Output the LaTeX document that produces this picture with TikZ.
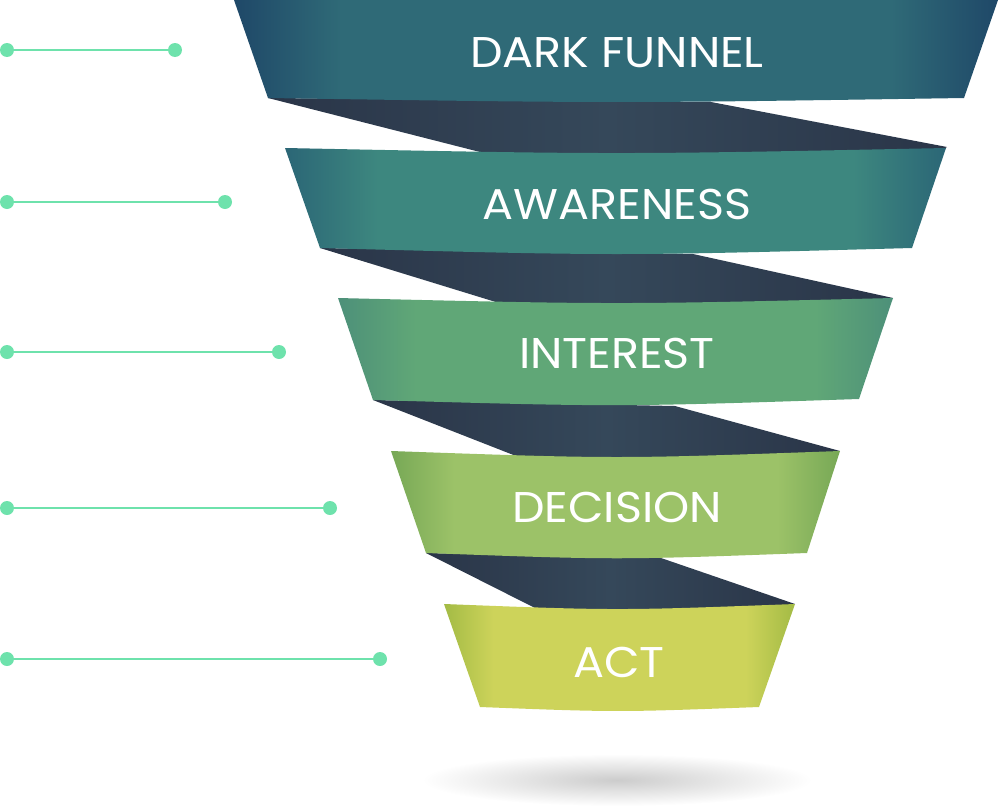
\documentclass[tikz,border=0pt]{standalone}
\usepackage{fontspec}
\setmainfont{Poppins}[FakeStretch=1.07]
\definecolor{bonee}{HTML}{1F4868}
\definecolor{bonem}{HTML}{2F6A77}
\definecolor{btwoe}{HTML}{2B6676}
\definecolor{btwom}{HTML}{3D877F}
\definecolor{bthree}{HTML}{4D9079}
\definecolor{bthreem}{HTML}{60A777}
\definecolor{bfoure}{HTML}{77A856}
\definecolor{bfourm}{HTML}{9CC268}
\definecolor{bfivee}{HTML}{A3BB45}
\definecolor{bfivem}{HTML}{CDD35A}
\definecolor{dke}{HTML}{2A3548}
\definecolor{dkm}{HTML}{35485A}
\definecolor{mint}{HTML}{6EE2AC}
\pgfdeclarehorizontalshading{shone}{100bp}{color(0bp)=(bonee); color(25bp)=(bonee); color(32bp)=(bonem); color(68bp)=(bonem); color(75bp)=(bonee); color(100bp)=(bonee)}
\pgfdeclarehorizontalshading{shtwo}{100bp}{color(0bp)=(btwoe); color(25bp)=(btwoe); color(32bp)=(btwom); color(68bp)=(btwom); color(75bp)=(btwoe); color(100bp)=(btwoe)}
\pgfdeclarehorizontalshading{shthree}{100bp}{color(0bp)=(bthree); color(25bp)=(bthree); color(32bp)=(bthreem); color(68bp)=(bthreem); color(75bp)=(bthree); color(100bp)=(bthree)}
\pgfdeclarehorizontalshading{shfour}{100bp}{color(0bp)=(bfoure); color(25bp)=(bfoure); color(32bp)=(bfourm); color(68bp)=(bfourm); color(75bp)=(bfoure); color(100bp)=(bfoure)}
\pgfdeclarehorizontalshading{shfive}{100bp}{color(0bp)=(bfivee); color(25bp)=(bfivee); color(32bp)=(bfivem); color(68bp)=(bfivem); color(75bp)=(bfivee); color(100bp)=(bfivee)}
\pgfdeclarehorizontalshading{shdark}{100bp}{color(0bp)=(dke); color(25bp)=(dke); color(50bp)=(dkm); color(75bp)=(dke); color(100bp)=(dke)}
\tikzset{
  darkpiece/.style={shading=shdark, draw=none},
  label/.style={text=white, font=\fontsize{43}{43}\selectfont, anchor=base, inner sep=0pt},
  dot/.style={circle, fill=mint, draw=none, minimum size=14pt, inner sep=0pt},
  lead/.style={draw=mint, line width=1.8pt}
}
\begin{document}
\begin{tikzpicture}[x=1pt,y=-1pt]
\useasboundingbox (0,0) rectangle (999,806);
% shadow
\shade[inner color=black!20, outer color=white] (617,780) ellipse [x radius=195, y radius=26];
% dark connectors
\path[darkpiece] (268,98) -- (711,102) -- (947,147) -- (917,162) -- (490,167) -- (480,152) -- cycle;
\path[darkpiece] (320,248) -- (693,254) -- (893,298) -- (863,313) -- (509,318) -- (499,303) -- cycle;
\path[darkpiece] (373,400) -- (675,406) -- (840,451) -- (810,466) -- (526,471) -- (516,456) -- cycle;
\path[darkpiece] (426,553) -- (661,558) -- (795,604) -- (765,619) -- (545,623) -- (535,608) -- cycle;
% bands
\path[shading=shone] (234,0) -- (998,0) -- (964,98) .. controls (617,103.3) .. (268,98) -- cycle;
\path[shading=shtwo] (285,148) .. controls (617,154.7) .. (946,148) -- (912,248) .. controls (617,256) .. (320,248) -- cycle;
\path[shading=shthree] (338,298) .. controls (617,304.7) .. (893,298) -- (859,399) .. controls (617,407) .. (373,400) -- cycle;
\path[shading=shfour] (391,451) .. controls (617,459) .. (840,451) -- (807,553) .. controls (617,560) .. (426,553) -- cycle;
\path[shading=shfive] (444,604) .. controls (617,610.7) .. (795,604) -- (759,707) .. controls (617,712.3) .. (480,707) -- cycle;
% labels
\node[label] (tdark) at (617,67) {DARK FUNNEL};
\node[label] (taware) at (617,219) {AWARENESS};
\node[label] (tinter) at (617,368) {INTEREST};
\node[label] (tdecis) at (617,522) {DECISION};
\node[label] (tact) at (619,677) {ACT};
% leader lines
\node[dot] (la) at (7,50) {};   \node[dot] (ra) at (175,50) {};
\node[dot] (lb) at (7,202) {};  \node[dot] (rb) at (225,202) {};
\node[dot] (lc) at (7,352) {};  \node[dot] (rc) at (279,352) {};
\node[dot] (ld) at (7,508) {};  \node[dot] (rd) at (330,508) {};
\node[dot] (le) at (7,659) {};  \node[dot] (re) at (380,659) {};
\draw[lead] (la) -- (ra);
\draw[lead] (lb) -- (rb);
\draw[lead] (lc) -- (rc);
\draw[lead] (ld) -- (rd);
\draw[lead] (le) -- (re);
\end{tikzpicture}
\end{document}
